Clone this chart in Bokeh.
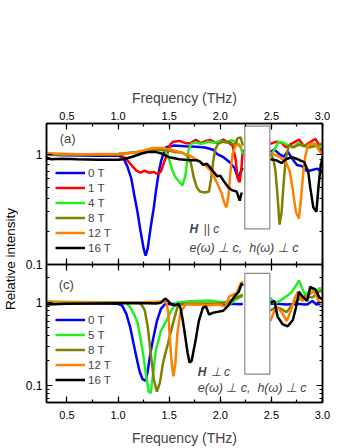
import math
from bokeh.plotting import figure
from bokeh.models import (Range1d, LinearAxis, LogAxis, FixedTicker, SingleIntervalTicker,
                          PrintfTickFormatter, CustomJSTickFormatter, Legend, LegendItem,
                          Label, Div)
from bokeh.layouts import row, column
from bokeh.embed import file_html
from bokeh.resources import INLINE

NAN = float("nan")

# ---------------- Panel (a): H || c ----------------
a_labels = ["0 T", "1 T", "4 T", "8 T", "12 T", "16 T"]
a_colors = ["#0000ff", "#ff0000", "#22ee22", "#808000", "#ff8000", "#000000"]

a_f_0T = [0.30, 0.50, 0.80, 1.00, 1.05, 1.09, 1.13, 1.16, 1.19, 1.22, 1.25, 1.27, 1.29, 1.32, 1.35, 1.37, 1.40, 1.42, 1.45, 1.47, 1.55, 1.65, 1.76, 1.85, 1.93, 1.97, 2.03, 2.09, 2.14, 2.17, 2.19, 2.22,
          NAN, 2.49, 2.53, 2.58, 2.62, 2.66, 2.70, 2.75, 2.80, 2.85, 2.90, 2.95, 3.00]
a_v_0T = [0.99, 0.98, 0.97, 0.97, 0.93, 0.78, 0.60, 0.42, 0.30, 0.20, 0.14, 0.12, 0.14, 0.22, 0.33, 0.46, 0.70, 0.86, 1.05, 1.16, 1.20, 1.18, 1.17, 1.15, 1.10, 1.00, 0.94, 0.85, 0.75, 0.62, 0.66, 0.75,
          NAN, 1.05, 1.10, 1.00, 0.95, 1.06, 0.92, 0.80, 0.78, 0.70, 0.72, 0.74, 0.68]

a_f_1T = [0.30, 0.60, 0.90, 1.02, 1.06, 1.10, 1.14, 1.18, 1.22, 1.26, 1.30, 1.35, 1.39, 1.42, 1.45, 1.48, 1.51, 1.54, 1.60, 1.66, 1.71, 1.76, 1.81, 1.86, 1.90, 1.96, 2.03, 2.08, 2.12, 2.15, 2.17, 2.19, 2.21, 2.22,
          NAN, 2.49, 2.55, 2.60, 2.64, 2.70, 2.77, 2.82, 2.87, 2.93, 2.97, 3.00]
a_v_1T = [1.00, 1.00, 1.00, 0.99, 0.94, 0.86, 0.78, 0.71, 0.68, 0.71, 0.68, 0.69, 0.66, 0.70, 0.85, 1.00, 1.22, 1.30, 1.32, 1.26, 1.26, 1.35, 1.26, 1.32, 1.35, 1.27, 1.36, 1.27, 1.20, 0.90, 0.60, 0.56, 0.80, 1.10,
          NAN, 1.24, 1.30, 1.27, 1.16, 1.25, 1.36, 1.18, 1.27, 1.38, 1.20, 1.00]

a_f_4T = [0.30, 0.70, 1.00, 1.20, 1.30, 1.40, 1.46, 1.50, 1.53, 1.56, 1.60, 1.63, 1.66, 1.69, 1.72, 1.76, 1.82, 1.88, 1.94, 2.00, 2.06, 2.11, 2.16, 2.20, 2.22,
          NAN, 2.49, 2.53, 2.57, 2.62, 2.67, 2.71, 2.76, 2.81, 2.86, 2.91, 2.96, 3.00]
a_v_4T = [1.00, 1.00, 1.01, 1.05, 1.09, 1.10, 1.08, 0.90, 0.72, 0.62, 0.56, 0.52, 0.65, 1.10, 1.25, 1.28, 1.24, 1.30, 1.27, 1.32, 1.27, 1.34, 1.28, 1.15, 1.00,
          NAN, 0.98, 1.10, 1.30, 1.27, 1.20, 1.15, 1.27, 1.18, 1.20, 1.23, 1.15, 1.20]

a_f_8T = [0.30, 0.70, 1.00, 1.20, 1.35, 1.45, 1.55, 1.63, 1.68, 1.71, 1.74, 1.77, 1.80, 1.85, 1.89, 1.91, 1.93, 1.95, 1.98, 2.03, 2.09, 2.14, 2.17, 2.20, 2.22,
          NAN, 2.49, 2.52, 2.54, 2.56, 2.58, 2.60, 2.62, 2.64, 2.67, 2.72, 2.77, 2.82, 2.87, 2.92, 2.96, 3.00]
a_v_8T = [1.00, 1.00, 1.00, 1.05, 1.10, 1.10, 1.05, 1.03, 0.97, 0.85, 0.62, 0.50, 0.46, 0.45, 0.46, 0.60, 0.85, 1.10, 1.25, 1.30, 1.30, 1.20, 1.40, 1.42, 1.20,
          NAN, 1.03, 0.90, 0.70, 0.42, 0.23, 0.30, 0.55, 0.90, 1.20, 1.16, 1.22, 1.20, 1.15, 1.18, 1.22, 1.25]

a_f_12T = [0.30, 0.60, 1.00, 1.15, 1.25, 1.34, 1.44, 1.52, 1.60, 1.70, 1.78, 1.85, 1.90, 1.94, 1.98, 2.01, 2.04, 2.06, 2.08, 2.10, 2.12, 2.15, 2.18, 2.21,
           NAN, 2.49, 2.54, 2.58, 2.64, 2.68, 2.71, 2.74, 2.77, 2.79, 2.81, 2.83, 2.86, 2.90, 2.93, 2.97, 3.00]
a_v_12T = [1.02, 1.00, 1.00, 1.03, 1.08, 1.14, 1.14, 1.10, 1.05, 0.97, 0.88, 0.80, 0.72, 0.62, 0.52, 0.45, 0.36, 0.33, 0.42, 0.70, 1.00, 1.20, 1.24, 1.15,
           NAN, 1.03, 0.98, 0.94, 0.86, 0.70, 0.47, 0.30, 0.26, 0.40, 0.65, 0.94, 1.22, 1.25, 1.24, 1.07, 1.00]

a_f_16T = [0.30, 0.35, 0.45, 0.60, 0.80, 1.00, 1.05, 1.14, 1.24, 1.30, 1.36, 1.42, 1.50, 1.60, 1.70, 1.77, 1.80, 1.83, 1.87, 1.90, 1.93, 1.97, 2.00, 2.04, 2.08, 2.12, 2.16, 2.19, 2.21,
           NAN, 2.49, 2.55, 2.60, 2.64, 2.70, 2.76, 2.82, 2.86, 2.88, 2.91, 2.94, 2.96, 2.98, 3.00]
a_v_16T = [0.93, 0.90, 0.91, 0.90, 0.89, 0.89, 0.90, 0.95, 1.02, 1.05, 1.05, 1.02, 0.94, 0.90, 0.88, 0.88, 0.86, 0.80, 0.82, 0.76, 0.70, 0.63, 0.64, 0.56, 0.50, 0.47, 0.46, 0.38, 0.45,
           NAN, 0.90, 0.88, 0.83, 0.90, 0.94, 0.90, 0.85, 0.70, 0.50, 0.33, 0.30, 0.50, 0.76, 0.95]

a_freqs = [a_f_0T, a_f_1T, a_f_4T, a_f_8T, a_f_12T, a_f_16T]
a_vals = [a_v_0T, a_v_1T, a_v_4T, a_v_8T, a_v_12T, a_v_16T]

# ---------------- Panel (c): H ⊥ c ----------------
c_labels = ["0 T", "5 T", "8 T", "12 T", "16 T"]
c_colors = ["#0000ff", "#22ee22", "#808000", "#ff8000", "#000000"]

c_f_0T = [0.30, 0.60, 0.90, 1.00, 1.04, 1.08, 1.12, 1.15, 1.18, 1.21, 1.24, 1.27, 1.29, 1.31, 1.34, 1.38, 1.42, 1.46, 1.60, 1.80, 2.00, 2.10, 2.20, 2.22,
          NAN, 2.49, 2.55, 2.65, 2.75, 2.80, 2.85, 2.90, 2.94, 3.00]
c_v_0T = [1.00, 0.99, 0.98, 0.97, 0.92, 0.74, 0.50, 0.33, 0.22, 0.15, 0.12, 0.115, 0.15, 0.22, 0.35, 0.60, 0.85, 0.96, 0.97, 0.96, 0.96, 0.97, 0.96, 0.97,
          NAN, 0.97, 0.97, 0.95, 0.97, 0.96, 0.95, 1.05, 0.95, 0.98]

c_f_5T = [0.30, 0.70, 1.00, 1.08, 1.12, 1.15, 1.19, 1.22, 1.25, 1.28, 1.30, 1.32, 1.34, 1.37, 1.42, 1.47, 1.52, 1.57, 1.70, 1.90, 2.00, 2.05, 2.09, 2.14, 2.19, 2.22,
          NAN, 2.49, 2.53, 2.58, 2.65, 2.70, 2.74, 2.77, 2.80, 2.83, 2.87, 2.90, 2.93, 2.97, 3.00]
c_v_5T = [1.03, 1.01, 1.01, 1.00, 0.88, 0.75, 0.58, 0.37, 0.22, 0.12, 0.085, 0.082, 0.13, 0.27, 0.46, 0.60, 0.80, 1.00, 1.04, 1.06, 1.02, 1.00, 0.95, 1.07, 1.15, 1.20,
          NAN, 1.15, 0.97, 1.05, 1.20, 1.35, 1.60, 1.85, 1.50, 1.24, 1.35, 1.50, 1.30, 1.50, 1.45]

c_f_8T = [0.30, 0.80, 1.10, 1.22, 1.26, 1.29, 1.32, 1.35, 1.38, 1.41, 1.44, 1.49, 1.54, 1.58, 1.63, 1.80, 2.00, 2.10, 2.16, 2.22,
          NAN, 2.49, 2.54, 2.58, 2.65, 2.71, 2.77, 2.83, 2.90, 2.96, 3.00]
c_v_8T = [1.00, 1.00, 1.00, 0.99, 0.82, 0.52, 0.24, 0.12, 0.085, 0.11, 0.19, 0.33, 0.58, 0.88, 0.97, 0.98, 0.98, 1.05, 1.15, 1.25,
          NAN, 0.80, 0.88, 0.86, 0.77, 0.97, 1.10, 1.20, 1.15, 1.35, 1.40]

c_f_12T = [0.30, 0.80, 1.20, 1.44, 1.47, 1.49, 1.50, 1.52, 1.54, 1.56, 1.58, 1.61, 1.66, 1.76, 1.89, 1.98, 2.05, 2.09, 2.16, 2.20, 2.22,
           NAN, 2.49, 2.53, 2.56, 2.61, 2.65, 2.69, 2.73, 2.76, 2.80, 2.87, 2.92, 2.96, 3.00]
c_v_12T = [1.02, 1.00, 1.00, 1.03, 1.02, 0.80, 0.50, 0.22, 0.13, 0.18, 0.42, 0.76, 0.95, 0.95, 0.93, 0.95, 0.90, 1.20, 1.30, 1.70, 1.80,
           NAN, 0.60, 0.80, 0.88, 0.74, 0.60, 0.80, 1.15, 1.35, 1.05, 1.24, 1.40, 1.05, 0.95]

c_f_16T = [0.30, 0.50, 0.80, 1.20, 1.37, 1.42, 1.46, 1.49, 1.52, 1.56, 1.59, 1.61, 1.63, 1.65, 1.68, 1.70, 1.72, 1.76, 1.79, 1.83, 1.86, 1.89, 1.92, 1.96, 2.03, 2.08, 2.13, 2.18, 2.21, 2.22,
           NAN, 2.49, 2.53, 2.56, 2.61, 2.66, 2.71, 2.74, 2.77, 2.80, 2.85, 2.88, 2.93, 2.97, 3.00]
c_v_16T = [0.95, 0.97, 0.98, 0.99, 0.98, 1.00, 1.12, 1.05, 0.95, 0.93, 0.97, 0.87, 0.65, 0.45, 0.25, 0.19, 0.20, 0.36, 0.60, 0.87, 0.90, 0.72, 0.75, 0.77, 0.80, 0.93, 1.15, 1.35, 1.70, 1.60,
           NAN, 1.00, 1.05, 0.68, 0.55, 0.52, 0.62, 0.87, 1.35, 1.20, 1.05, 1.55, 1.45, 1.15, 1.10]

c_freqs = [c_f_0T, c_f_5T, c_f_8T, c_f_12T, c_f_16T]
c_vals = [c_v_0T, c_v_5T, c_v_8T, c_v_12T, c_v_16T]

# masked (blank) frequency window and its vertical extent in each panel
gap_freq = [2.24, 2.485]
gap_a = [0.21, 1.80]
gap_c = [0.138, 2.25]

x_ticks_major = 0.5
FONT = "Liberation Sans"
NB = "\u00a0"
ANNOT2 = "e(ω) ⊥ c," + NB + NB + "h(ω) ⊥ c"


def style_frame(p):
    p.outline_line_color = "black"
    p.outline_line_width = 1.5
    p.outline_line_alpha = 1
    p.background_fill_color = "white"
    p.xgrid.visible = False
    p.ygrid.visible = False


def style_axis(ax, labels=True, size="11px"):
    ax.axis_line_color = "black"
    ax.axis_line_width = 1.5
    ax.major_tick_in = 6
    ax.major_tick_out = 0
    ax.minor_tick_in = 3
    ax.minor_tick_out = 0
    ax.major_tick_line_width = 1.2
    ax.minor_tick_line_width = 1.2
    ax.major_label_text_font = FONT
    ax.major_label_text_color = "black"
    ax.major_label_text_font_size = size
    if labels:
        ax.major_label_standoff = 4
    else:
        ax.major_label_standoff = 0
        ax.formatter = CustomJSTickFormatter(code="return '';")


def x_ticker():
    return SingleIntervalTicker(interval=x_ticks_major, num_minor_ticks=2)


def y_ticker(minors):
    return FixedTicker(ticks=[0.1, 1], minor_ticks=minors)


yfmt_code = "return tick < 1 ? tick.toFixed(1) : tick.toFixed(0);"

# ---------------- figure (a) ----------------
pa = figure(width=326, height=272, x_range=Range1d(0.3, 3.0), y_range=Range1d(0.1, 1.9),
            y_axis_type="log", x_axis_location="above",
            output_backend="svg", toolbar_location=None,
            min_border_left=24, min_border_right=26, min_border_top=123, min_border_bottom=8)
style_frame(pa)
pa.border_fill_color = "white"
minors_a = [0.2, 0.3, 0.4, 0.5, 0.6, 0.7, 0.8, 0.9]
xa = pa.xaxis[0]
xa.ticker = x_ticker()
xa.formatter = PrintfTickFormatter(format="%.1f")
style_axis(xa)
xa.axis_label = "Frequency (THz)"
xa.axis_label_text_font = FONT
xa.axis_label_text_font_style = "normal"
xa.axis_label_text_font_size = "14px"
xa.axis_label_standoff = 3
ya = pa.yaxis[0]
ya.ticker = y_ticker(minors_a)
ya.formatter = CustomJSTickFormatter(code=yfmt_code)
style_axis(ya, size="12px")
ya.major_label_standoff = 4
xb = LinearAxis(ticker=x_ticker())
style_axis(xb, labels=False)
pa.add_layout(xb, "below")
yr = LogAxis(ticker=y_ticker(minors_a))
style_axis(yr, labels=False)
pa.add_layout(yr, "right")

items_a = []
for f, v, lab, col in zip(a_freqs, a_vals, a_labels, a_colors):
    r = pa.line(f, v, line_color=col, line_width=2.5)
    items_a.append(LegendItem(label=lab, renderers=[r]))
pa.quad(left=[gap_freq[0]], right=[gap_freq[1]], bottom=[gap_a[0]], top=[gap_a[1]],
        fill_color="white", line_color="#8a8a8a", line_width=1.2)
leg_a = Legend(items=items_a, location=(9, 10), border_line_color=None, background_fill_alpha=0,
               padding=0, margin=0, spacing=2, glyph_width=30, glyph_height=13, label_height=13,
               label_standoff=3, label_text_font=FONT, label_text_font_size="11.5px")
pa.add_layout(leg_a)
pa.add_layout(Label(x=0.43, y=1.4, text="(a)", text_font=FONT, text_font_size="13px", text_baseline="middle"))
pa.add_layout(Label(x=1.70, y=0.208, text="H", text_font=FONT, text_font_size="12px",
                    text_font_style="bold italic", text_baseline="middle"))
pa.add_layout(Label(x=1.70, y=0.208, x_offset=14, text="|| c", text_font=FONT, text_font_size="12px",
                    text_font_style="italic", text_baseline="middle"))
pa.add_layout(Label(x=1.70, y=0.14, text=ANNOT2, text_font=FONT, text_font_size="12.5px",
                    text_font_style="italic", text_baseline="middle"))

# ---------------- figure (c) ----------------
pc = figure(width=326, height=184, x_range=Range1d(0.3, 3.0), y_range=Range1d(0.063, 2.88),
            y_axis_type="log", x_axis_location="below",
            output_backend="svg", toolbar_location=None,
            min_border_left=24, min_border_right=26, min_border_top=0, min_border_bottom=43)
style_frame(pc)
pc.border_fill_alpha = 0
pc.margin = (-8, 0, 0, 0)
minors_c = [0.07, 0.08, 0.09, 0.2, 0.3, 0.4, 0.5, 0.6, 0.7, 0.8, 0.9, 2]
xc = pc.xaxis[0]
xc.ticker = x_ticker()
xc.formatter = PrintfTickFormatter(format="%.1f")
style_axis(xc)
xc.major_label_standoff = 8
xc.axis_label = "Frequency (THz)"
xc.axis_label_text_font = FONT
xc.axis_label_text_font_style = "normal"
xc.axis_label_text_font_size = "14px"
xc.axis_label_standoff = 8
yc = pc.yaxis[0]
yc.ticker = y_ticker(minors_c)
yc.formatter = CustomJSTickFormatter(code=yfmt_code)
style_axis(yc, size="12px")
yc.major_label_standoff = 4
xt = LinearAxis(ticker=x_ticker())
style_axis(xt, labels=False)
pc.add_layout(xt, "above")
ycr = LogAxis(ticker=y_ticker(minors_c))
style_axis(ycr, labels=False)
pc.add_layout(ycr, "right")

items_c = []
for f, v, lab, col in zip(c_freqs, c_vals, c_labels, c_colors):
    r = pc.line(f, v, line_color=col, line_width=2.5)
    items_c.append(LegendItem(label=lab, renderers=[r]))
pc.quad(left=[gap_freq[0]], right=[gap_freq[1]], bottom=[gap_c[0]], top=[gap_c[1]],
        fill_color="white", line_color="#8a8a8a", line_width=1.2)
leg_c = Legend(items=items_c, location=(9, 16), border_line_color=None, background_fill_alpha=0,
               padding=0, margin=0, spacing=2, glyph_width=30, glyph_height=13, label_height=13,
               label_standoff=3, label_text_font=FONT, label_text_font_size="11.5px")
pc.add_layout(leg_c)
pc.add_layout(Label(x=0.42, y=1.67, text="(c)", text_font=FONT, text_font_size="13px", text_baseline="middle"))
pc.add_layout(Label(x=1.78, y=0.146, text="H", text_font=FONT, text_font_size="12px",
                    text_font_style="bold italic", text_baseline="middle"))
pc.add_layout(Label(x=1.78, y=0.146, x_offset=13, text="⊥ c", text_font=FONT, text_font_size="12px",
                    text_font_style="italic", text_baseline="middle"))
pc.add_layout(Label(x=1.78, y=0.0946, text=ANNOT2, text_font=FONT, text_font_size="12.5px",
                    text_font_style="italic", text_baseline="middle"))

ylab = Div(width=12, height=448,
           text=('<div style="box-sizing:border-box;width:12px;height:448px;padding-top:60px;'
                 'display:flex;align-items:center;justify-content:center;overflow:visible;">'
                 '<span style="position:relative;left:0px;writing-mode:vertical-rl;transform:rotate(180deg);'
                 'white-space:nowrap;font-family:\'Liberation Sans\',Arial,sans-serif;font-size:13.5px;'
                 'line-height:14px;color:black;">Relative intensity</span></div>'))

layout = row(ylab, column(pa, pc))
open("out.html", "w").write(file_html(layout, INLINE))
